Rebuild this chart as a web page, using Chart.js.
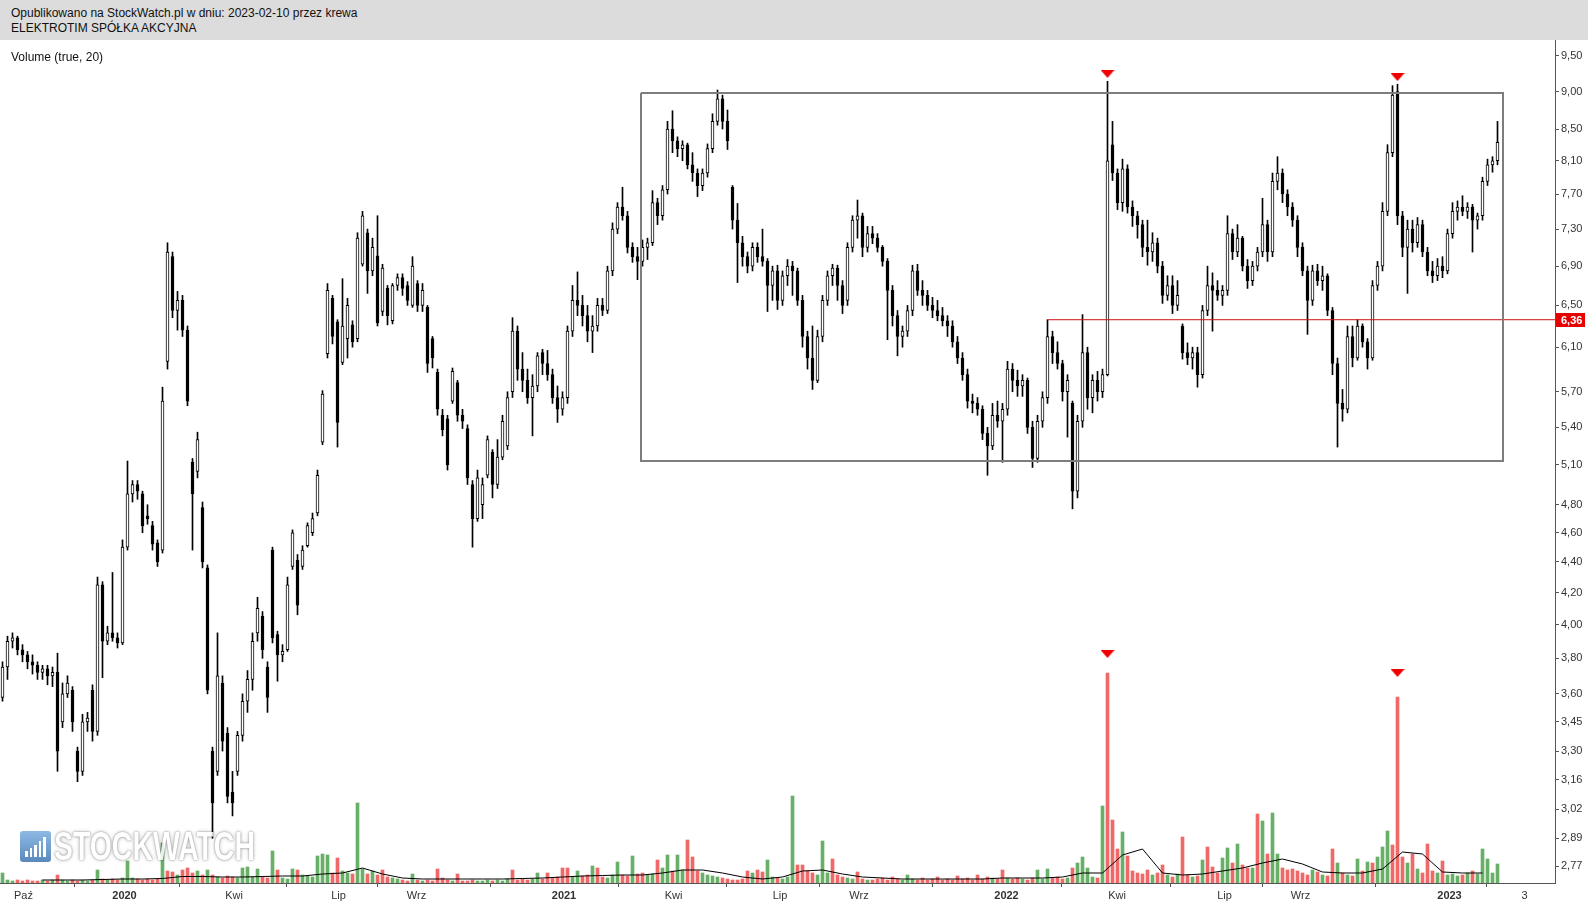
<!DOCTYPE html>
<html lang="pl">
<head>
<meta charset="utf-8">
<title>ELEKTROTIM SPÓŁKA AKCYJNA</title>
<script src="https://cdn.jsdelivr.net/npm/chart.js@4.4.1/dist/chart.umd.min.js"></script>
<style>
  html, body { margin: 0; padding: 0; background: #fff; }
  body { width: 1588px; height: 902px; position: relative; overflow: hidden;
         font-family: "Liberation Sans", Arial, sans-serif; color: #111; }
  #header { position: absolute; left: 0; top: 0; width: 1588px; height: 40px; background: #dcdcdc; font-size: 12px; }
  #header div { position: absolute; left: 11px; line-height: 14px; white-space: nowrap; }
  #chartBox { position: absolute; left: 0; top: 40px; width: 1588px; height: 862px; }
  #volLabel { position: absolute; left: 11px; top: 50px; font-size: 12px; line-height: 14px; }
  #logo { position: absolute; left: 20px; top: 826px; pointer-events: none; opacity: 0.85; }
  #logo .icon { position: absolute; left: 0; top: 5px; width: 31px; height: 31px; border-radius: 3px;
                background: linear-gradient(#7aaee0, #3d74b0); display: flex; align-items: flex-end;
                gap: 2px; padding: 0 5px 5px 5px; box-sizing: border-box; }
  #logo .icon i { display: block; width: 2.5px; background: #fff; }
  #logo .word { position: absolute; left: 34px; top: 0; font: bold 40px/40px "Liberation Sans", Arial, sans-serif;
                color: #fff; transform: scaleX(0.71); transform-origin: 0 0; white-space: nowrap;
                text-shadow: 0 0 2px rgba(0,0,0,0.55), 0 0 5px rgba(0,0,0,0.3); }
</style>
</head>
<body>
<div id="header">
  <div style="top:6px">Opublikowano na StockWatch.pl w dniu: 2023-02-10 przez krewa</div>
  <div style="top:21px">ELEKTROTIM SPÓŁKA AKCYJNA</div>
</div>
<div id="chartBox"><canvas id="chart" width="1588" height="862"></canvas></div>
<div id="volLabel">Volume (true, 20)</div>
<div id="logo">
  <div class="icon"><i style="height:6px"></i><i style="height:9px"></i><i style="height:12px"></i><i style="height:16px"></i><i style="height:20px"></i></div>
  <div class="word">STOCKWATCH</div>
</div>
<script>
// notowania: [otwarcie, max, min, zamknięcie], jedna świeca ~ 3 sesje
var ohlc = [
  [3.58,3.78,3.56,3.75],[3.75,3.93,3.68,3.90],[3.90,3.95,3.86,3.92],[3.92,3.93,3.82,3.85],[3.85,3.88,3.78,3.82],
  [3.82,3.84,3.74,3.78],[3.78,3.82,3.71,3.76],[3.76,3.78,3.68,3.72],[3.72,3.76,3.68,3.74],[3.74,3.76,3.65,3.70],
  [3.70,3.75,3.64,3.72],[3.72,3.83,3.20,3.30],[3.45,3.66,3.42,3.60],[3.60,3.70,3.58,3.66],[3.62,3.64,3.40,3.45],
  [3.30,3.32,3.15,3.20],[3.20,3.49,3.18,3.45],[3.45,3.50,3.40,3.47],[3.62,3.65,3.35,3.40],[3.40,4.30,3.38,4.25],
  [4.25,4.27,3.69,3.90],[3.90,3.99,3.88,3.95],[3.95,4.33,3.90,3.92],[3.92,3.95,3.86,3.89],[3.89,4.55,3.88,4.50],
  [4.50,5.13,4.48,4.88],[4.88,4.98,4.82,4.95],[4.95,4.98,4.84,4.90],[4.88,4.90,4.60,4.65],[4.72,4.80,4.66,4.70],
  [4.65,4.68,4.48,4.52],[4.53,4.55,4.37,4.40],[4.48,5.74,4.46,5.62],[5.97,7.15,5.90,7.05],[7.00,7.05,6.38,6.45],
  [6.45,6.64,6.26,6.55],[6.55,6.60,6.20,6.26],[6.26,6.30,5.58,5.62],[5.12,5.15,4.48,4.88],[5.05,5.36,5.00,5.30],
  [4.78,4.82,4.36,4.40],[4.36,4.38,3.60,3.62],[3.30,3.32,2.89,3.05],[3.20,3.95,3.18,3.70],[3.66,3.70,3.30,3.35],
  [3.39,3.42,3.05,3.08],[3.10,3.20,2.99,3.05],[3.20,3.40,3.18,3.38],[3.38,3.60,3.35,3.56],[3.56,3.73,3.50,3.68],
  [3.68,3.95,3.62,3.90],[3.95,4.17,3.90,4.10],[4.05,4.08,3.80,3.85],[3.75,3.78,3.50,3.58],[4.48,4.50,3.89,3.92],
  [3.94,3.96,3.67,3.82],[3.82,3.88,3.78,3.84],[3.85,4.30,3.84,4.25],[4.37,4.62,4.35,4.60],[4.41,4.45,4.06,4.12],
  [4.37,4.51,4.35,4.48],[4.51,4.67,4.50,4.65],[4.60,4.74,4.58,4.70],[4.74,5.06,4.72,5.02],[5.28,5.71,5.26,5.68],
  [6.04,6.72,6.00,6.65],[6.57,6.60,6.13,6.20],[6.34,6.36,5.24,5.44],[5.96,6.77,5.94,6.30],[6.18,6.57,6.00,6.50],
  [6.31,6.35,6.10,6.15],[6.18,7.26,6.15,7.20],[6.92,7.50,6.90,7.45],[7.26,7.30,6.62,6.85],[6.85,7.20,6.80,7.10],
  [7.01,7.45,6.30,6.33],[6.44,6.92,6.40,6.88],[6.67,6.70,6.31,6.40],[6.35,6.72,6.32,6.70],[6.70,6.82,6.65,6.78],
  [6.78,6.82,6.60,6.67],[6.70,6.74,6.50,6.55],[6.50,7.00,6.48,6.90],[6.72,6.75,6.44,6.50],[6.50,6.72,6.44,6.65],
  [6.48,6.50,5.87,5.95],[6.18,6.20,5.91,6.00],[5.87,5.90,5.50,5.55],[5.50,5.55,5.33,5.38],[5.47,5.50,5.06,5.10],
  [5.62,5.91,5.60,5.88],[5.78,5.80,5.45,5.50],[5.50,5.55,5.39,5.45],[5.39,5.42,4.95,5.00],[4.95,4.98,4.50,4.70],
  [4.70,5.06,4.68,5.00],[4.80,5.00,4.70,4.95],[5.02,5.33,5.00,5.30],[5.20,5.22,4.85,4.95],[4.95,5.30,4.92,5.16],
  [5.16,5.50,5.14,5.45],[5.25,5.70,5.22,5.65],[5.70,6.38,5.65,6.25],[6.25,6.30,5.80,5.90],[5.90,6.05,5.70,5.80],
  [5.80,5.90,5.60,5.65],[5.65,5.85,5.33,5.75],[5.75,6.05,5.70,6.02],[6.05,6.08,5.85,5.95],[5.95,6.07,5.80,5.85],
  [5.85,5.90,5.60,5.65],[5.65,5.75,5.44,5.55],[5.55,5.70,5.50,5.65],[5.65,6.30,5.60,6.25],[6.25,6.70,6.20,6.55],
  [6.55,6.84,6.40,6.50],[6.50,6.60,6.30,6.40],[6.40,6.50,6.15,6.25],[6.25,6.40,6.05,6.30],[6.30,6.57,6.25,6.50],
  [6.50,6.57,6.40,6.45],[6.45,6.90,6.42,6.85],[6.85,7.37,6.80,7.30],[7.30,7.60,7.25,7.55],[7.55,7.78,7.40,7.45],
  [7.45,7.50,7.04,7.10],[7.10,7.15,6.94,7.00],[7.00,7.10,6.76,6.95],[6.95,7.18,6.90,7.10],[7.10,7.20,6.97,7.15],
  [7.15,7.74,7.12,7.60],[7.60,7.65,7.35,7.45],[7.45,7.80,7.40,7.75],[7.75,8.60,7.70,8.50],[8.50,8.74,8.20,8.35],
  [8.35,8.40,8.15,8.25],[8.25,8.35,8.10,8.30],[8.30,8.32,8.00,8.05],[8.05,8.20,7.85,7.95],[7.95,8.00,7.67,7.80],
  [7.80,8.00,7.74,7.95],[7.95,8.31,7.90,8.25],[8.25,8.70,8.20,8.60],[8.60,9.02,8.55,8.90],[8.90,8.95,8.50,8.60],
  [8.60,8.75,8.24,8.35],[7.78,7.80,7.30,7.40],[7.40,7.59,6.73,7.15],[7.15,7.22,6.90,7.00],[7.00,7.05,6.83,6.90],
  [6.90,7.15,6.85,7.10],[7.10,7.15,6.94,7.00],[7.00,7.30,6.90,6.95],[6.95,6.98,6.44,6.70],[6.70,6.90,6.55,6.85],
  [6.85,6.91,6.46,6.55],[6.55,6.85,6.50,6.80],[6.80,6.97,6.70,6.90],[6.90,6.95,6.60,6.85],[6.85,6.88,6.50,6.55],
  [6.55,6.60,6.10,6.20],[6.20,6.25,5.90,6.00],[6.00,6.30,5.72,5.80],[5.80,6.26,5.78,6.20],[6.20,6.60,6.15,6.55],
  [6.55,6.85,6.50,6.80],[6.80,6.92,6.70,6.88],[6.88,6.91,6.55,6.70],[6.70,6.75,6.42,6.50],[6.55,7.15,6.50,7.10],
  [7.10,7.45,7.05,7.40],[7.40,7.63,7.20,7.45],[7.45,7.48,7.00,7.10],[7.10,7.33,7.05,7.25],[7.25,7.33,7.14,7.20],
  [7.20,7.25,7.05,7.10],[7.10,7.12,6.90,6.95],[6.95,6.98,6.17,6.65],[6.65,6.70,6.30,6.40],[6.40,6.45,6.02,6.20],
  [6.20,6.30,6.10,6.25],[6.25,6.50,6.20,6.45],[6.45,6.91,6.40,6.85],[6.85,6.92,6.60,6.65],[6.65,6.75,6.50,6.60],
  [6.60,6.65,6.45,6.50],[6.50,6.58,6.38,6.45],[6.45,6.55,6.35,6.40],[6.40,6.48,6.30,6.35],[6.35,6.40,6.20,6.30],
  [6.30,6.35,6.10,6.15],[6.15,6.20,5.95,6.00],[6.00,6.05,5.80,5.85],[5.85,5.90,5.56,5.62],[5.62,5.68,5.52,5.60],
  [5.60,5.65,5.50,5.55],[5.55,5.58,5.30,5.35],[5.35,5.40,5.02,5.25],[5.25,5.60,5.22,5.50],[5.50,5.62,5.40,5.45],
  [5.45,5.60,5.12,5.55],[5.55,5.97,5.50,5.90],[5.90,5.95,5.70,5.80],[5.80,5.89,5.66,5.75],[5.75,5.85,5.66,5.80],
  [5.80,5.82,5.35,5.40],[5.40,5.45,5.08,5.15],[5.15,5.50,5.12,5.45],[5.45,5.70,5.40,5.65],[5.65,6.36,5.60,6.20],
  [6.20,6.25,5.95,6.05],[6.05,6.15,5.90,5.95],[5.95,5.98,5.62,5.70],[5.70,5.85,5.32,5.80],[5.60,5.62,4.77,4.90],
  [4.90,5.50,4.85,5.45],[5.45,6.41,5.40,6.05],[6.05,6.10,5.55,5.65],[5.65,5.85,5.52,5.80],[5.80,5.88,5.62,5.70],
  [5.70,5.90,5.65,5.85],[5.85,9.14,5.84,8.10],[8.30,8.60,7.86,7.95],[7.95,8.00,7.52,7.60],[7.60,8.12,7.50,8.00],
  [8.00,8.05,7.48,7.55],[7.55,7.62,7.33,7.45],[7.45,7.50,7.20,7.35],[7.35,7.40,7.00,7.10],[7.10,7.40,6.91,7.05],
  [7.05,7.26,6.95,7.15],[7.15,7.20,6.83,6.90],[6.90,6.95,6.52,6.60],[6.60,6.80,6.55,6.70],[6.70,6.80,6.42,6.50],
  [6.50,6.75,6.45,6.60],[6.30,6.32,5.99,6.05],[6.05,6.14,5.94,6.00],[6.00,6.10,5.90,6.05],[6.05,6.10,5.74,5.85],
  [5.85,6.50,5.82,6.45],[6.45,6.90,6.40,6.70],[6.70,6.83,6.25,6.65],[6.65,6.75,6.55,6.60],[6.60,6.70,6.50,6.65],
  [6.65,7.45,6.60,7.25],[7.25,7.30,6.97,7.05],[7.05,7.35,7.00,7.20],[7.20,7.22,6.85,6.90],[6.90,6.97,6.67,6.75],
  [6.75,6.95,6.70,6.90],[6.90,7.10,6.85,7.05],[7.05,7.65,7.00,7.35],[7.35,7.40,6.95,7.05],[7.05,7.95,7.00,7.85],
  [7.85,8.15,7.75,7.95],[7.95,8.00,7.60,7.70],[7.70,7.75,7.45,7.55],[7.55,7.60,7.33,7.40],[7.40,7.45,7.00,7.10],
  [7.10,7.15,6.80,6.85],[6.85,6.90,6.22,6.55],[6.55,6.91,6.50,6.85],[6.85,6.92,6.70,6.75],[6.75,6.90,6.65,6.80],
  [6.80,6.82,6.40,6.45],[6.45,6.48,5.85,5.95],[5.95,6.00,5.24,5.60],[5.60,5.72,5.45,5.55],[5.55,6.30,5.52,6.20],
  [6.20,6.30,5.92,6.00],[6.00,6.36,5.98,6.30],[6.30,6.32,6.10,6.15],[6.15,6.18,5.90,6.00],[6.00,6.75,5.98,6.70],
  [6.70,6.95,6.65,6.90],[6.90,7.60,6.85,7.50],[7.50,8.30,7.45,8.20],[8.20,9.08,8.15,8.95],[9.00,9.10,7.35,7.45],
  [7.45,7.50,7.00,7.10],[7.10,7.40,6.62,7.30],[7.30,7.40,7.05,7.15],[7.15,7.43,7.10,7.35],[7.35,7.40,7.00,7.05],
  [7.05,7.10,6.80,6.85],[6.85,6.95,6.73,6.80],[6.80,6.98,6.75,6.90],[6.90,7.00,6.78,6.85],[6.85,7.30,6.82,7.25],
  [7.25,7.60,7.20,7.50],[7.50,7.62,7.40,7.55],[7.55,7.68,7.45,7.50],[7.50,7.60,7.42,7.55],[7.55,7.58,7.05,7.40],
  [7.40,7.48,7.30,7.45],[7.45,7.90,7.40,7.85],[7.85,8.12,7.80,8.05],[8.05,8.15,7.96,8.10],[8.10,8.60,8.05,8.33]
];

// wolumen (tys. szt.) dla tych samych świec
var volumes = [
  10,3,2,3,2,3,2,2,3,2,   3,8,3,2,3,2,3,2,3,13,   4,3,4,3,5,22,5,4,3,4,   3,4,40,12,11,8,13,15,10,12,
  8,13,8,6,5,7,6,5,15,16, 6,14,6,5,32,13,5,4,14,13, 8,7,6,27,29,28,10,25,12,10, 9,80,14,9,12,8,13,6,5,4,
  3,2,9,3,2,3,2,14,5,3,   2,9,2,2,3,2,2,3,2,3,    2,4,13,3,4,3,4,10,4,10, 5,6,15,15,6,12,7,8,17,15,
  6,5,8,21,8,7,27,9,10,8, 9,23,15,28,12,28,13,43,26,12, 10,8,7,6,5,4,3,3,4,12, 10,13,11,23,6,5,4,6,87,18,
  18,12,10,8,42,10,24,8,6,5, 4,11,4,3,3,4,5,3,6,4, 3,8,4,3,5,3,4,6,3,4, 3,7,4,5,3,8,4,6,5,4,
  13,5,4,5,4,3,5,13,4,14, 5,6,4,5,15,20,26,15,6,5, 77,210,63,34,51,27,12,10,9,13, 8,10,18,8,6,9,46,8,6,7,
  23,36,16,10,25,35,20,39,18,15, 15,69,62,29,70,29,15,13,14,12, 10,8,13,11,8,7,34,20,10,8, 7,24,12,21,20,26,36,52,38,186,
  26,20,29,14,10,39,12,10,22,8, 9,7,8,10,12,9,34,24,10,19
];
// świece, których słupek wolumenu jest czerwony / zielony wbrew kolorowi świecy
var volDown = [11,33,34,37,55,67,76,87,91,102,112,113,119,128,137,138,160,166,171,200,214,221,222,223,225,
               232,236,241,246,251,253,256,258,266,274,278,279,280,282,285,288];
var volUp = [0,19,25,32,41,48,49,51,54,63,64,71,82,115,118,123,126,133,135,153,158,164,209,215,216,217,220,
             224,240,244,245,247,252,254,267,271,273,276,277,296,297,299];
// średnia wolumenu (20), co 4 świece
var volMA = [null,null,3,3,3,3.5,4,4,4.5,6.5,6.5,6,6,6.5,7,7,9,10,15,9,5,4,4,4,4,4,4.5,5,6,7,7.5,8,8,10,13,13,10,6,4,6,
             12,13,9,6,5,4,4,4,4,4,5,5,5,6,10,10,28,34,10,8,9,12,15,20,24,19,11,10,10,14,31,29,11,10,10];

var priceTicks = [2.77,2.89,3.02,3.16,3.30,3.45,3.60,3.80,4.00,4.20,4.40,4.60,4.80,5.10,5.40,5.70,6.10,6.50,6.90,7.30,7.70,8.10,8.50,9.00,9.50];
var monthTicks = [4.2,24.4,46.3,67.2,82.8,112.3,134.2,155.5,171.3,200.8,222.9,244.4,259.6,289.4,304.4];
var monthLabels = ['Paź','2020','Kwi','Lip','Wrz','2021','Kwi','Lip','Wrz','2022','Kwi','Lip','Wrz','2023','3'];

var LEVEL = 6.36, LEVEL_FROM = 209;
var boxRange = { from: 127.7, to: 300.1, top: 8.98, bottom: 5.13 };
var peaks = [221, 279];
var peakMarks = [9.245, 9.20];
var volPeakMarks = [229, 210];

var X_MIN = -0.5, X_MAX = 310.5;

Chart.defaults.font.family = '"Liberation Sans", Arial, sans-serif';
Chart.defaults.font.size = 11;
Chart.defaults.color = '#333';

function candleUp(i) { return ohlc[i][3] >= ohlc[i][0]; }
function volIsUp(i) {
  if (volDown.indexOf(i) >= 0) return false;
  if (volUp.indexOf(i) >= 0) return true;
  return candleUp(i);
}

// czerwony trójkąt skierowany w dół
var triangle = (function () {
  var c = document.createElement('canvas');
  c.width = 14; c.height = 8;
  var g = c.getContext('2d');
  g.fillStyle = '#f00000';
  g.beginPath(); g.moveTo(0, 0); g.lineTo(14, 0); g.lineTo(7, 8); g.closePath(); g.fill();
  return c;
})();

var levelTag = {
  id: 'levelTag',
  afterDraw: function (chart) {
    var y = Math.round(chart.scales.y.getPixelForValue(LEVEL));
    var left = chart.chartArea.right + 1;
    var ctx = chart.ctx;
    ctx.save();
    ctx.fillStyle = '#e60000';
    ctx.fillRect(left, y - 7, 29, 14);
    ctx.fillStyle = '#fff';
    ctx.font = 'bold 11px "Liberation Sans", Arial, sans-serif';
    ctx.textBaseline = 'middle';
    ctx.fillText(LEVEL.toFixed(2).replace('.', ','), left + 5, y + 1);
    ctx.restore();
  }
};

function noPad(s) { s.paddingTop = 0; s.paddingBottom = 0; s.paddingLeft = 0; s.paddingRight = 0; }

new Chart(document.getElementById('chart'), {
  type: 'bar',
  data: {
    datasets: [
      {
        label: 'knoty',
        data: ohlc.map(function (d, i) { return { x: i, y: [d[2], d[1]] }; }),
        backgroundColor: '#000',
        barThickness: 1,
        grouped: false,
        order: 3
      },
      {
        label: 'korpusy',
        data: ohlc.map(function (d, i) { return { x: i, y: [Math.min(d[0], d[3]), Math.max(d[0], d[3])] }; }),
        backgroundColor: ohlc.map(function (d, i) { return candleUp(i) ? '#fff' : '#000'; }),
        borderColor: '#000',
        borderWidth: 1,
        borderSkipped: false,
        barThickness: 3,
        grouped: false,
        order: 2
      },
      {
        label: 'wolumen',
        yAxisID: 'yv',
        data: volumes.map(function (v, i) { return { x: i, y: v }; }),
        backgroundColor: volumes.map(function (v, i) { return volIsUp(i) ? 'rgb(104,176,104)' : 'rgb(240,104,104)'; }),
        barThickness: 3,
        grouped: false,
        order: 8
      },
      {
        type: 'line',
        label: 'średnia wolumenu',
        yAxisID: 'yv',
        data: volMA.map(function (v, k) { return { x: k * 4, y: v }; }),
        borderColor: '#000',
        borderWidth: 1,
        pointRadius: 0,
        spanGaps: false,
        order: 7
      },
      {
        type: 'line',
        label: 'kanał',
        data: [
          { x: boxRange.from, y: boxRange.top }, { x: boxRange.to, y: boxRange.top },
          { x: boxRange.to, y: boxRange.bottom }, { x: boxRange.from, y: boxRange.bottom },
          { x: boxRange.from, y: boxRange.top }
        ],
        borderColor: '#7d7d7d',
        borderWidth: 2,
        pointRadius: 0,
        order: 1
      },
      {
        type: 'line',
        label: 'poziom',
        data: [{ x: LEVEL_FROM, y: LEVEL }, { x: X_MAX, y: LEVEL }],
        borderColor: '#d01010',
        borderWidth: 1,
        pointRadius: 0,
        order: 1
      },
      {
        type: 'line',
        label: 'szczyty',
        data: peaks.map(function (p, k) { return { x: p, y: peakMarks[k] }; }),
        showLine: false,
        pointStyle: triangle,
        order: 0
      },
      {
        type: 'line',
        label: 'szczyty wolumenu',
        yAxisID: 'yv',
        data: peaks.map(function (p, k) { return { x: p, y: volPeakMarks[k] }; }),
        showLine: false,
        pointStyle: triangle,
        order: 0
      }
    ]
  },
  options: {
    responsive: false,
    animation: false,
    events: [],
    layout: { padding: 0, autoPadding: false },
    plugins: { legend: { display: false }, tooltip: { enabled: false } },
    scales: {
      x: {
        type: 'linear',
        min: X_MIN,
        max: X_MAX,
        offset: false,
        grid: { drawOnChartArea: false, drawTicks: true, tickLength: 4, color: '#555' },
        border: { display: true, color: '#555' },
        ticks: {
          autoSkip: false,
          maxRotation: 0,
          padding: 2,
          color: '#333',
          font: function (ctx) {
            return { size: 11, weight: /^\d{4}$/.test(monthLabels[ctx.index]) ? 'bold' : 'normal' };
          },
          callback: function (v, idx) { return monthLabels[idx]; }
        },
        afterBuildTicks: function (s) { s.ticks = monthTicks.map(function (v) { return { value: v }; }); },
        afterFit: function (s) { s.height = 19; noPad(s); }
      },
      y: {
        type: 'logarithmic',
        position: 'right',
        min: 2.716,
        max: 9.733,
        grid: { drawOnChartArea: false, drawTicks: true, tickLength: 4, color: '#555' },
        border: { display: true, color: '#555' },
        ticks: {
          autoSkip: false,
          padding: 2,
          color: '#333',
          callback: function (v) { return Number(v).toFixed(2).replace('.', ','); }
        },
        afterBuildTicks: function (s) { s.ticks = priceTicks.map(function (v) { return { value: v }; }); },
        afterFit: function (s) { s.width = 33; noPad(s); }
      },
      yv: { type: 'linear', display: false, min: 0, max: 843 }
    }
  },
  plugins: [levelTag]
});
</script>
</body>
</html>
